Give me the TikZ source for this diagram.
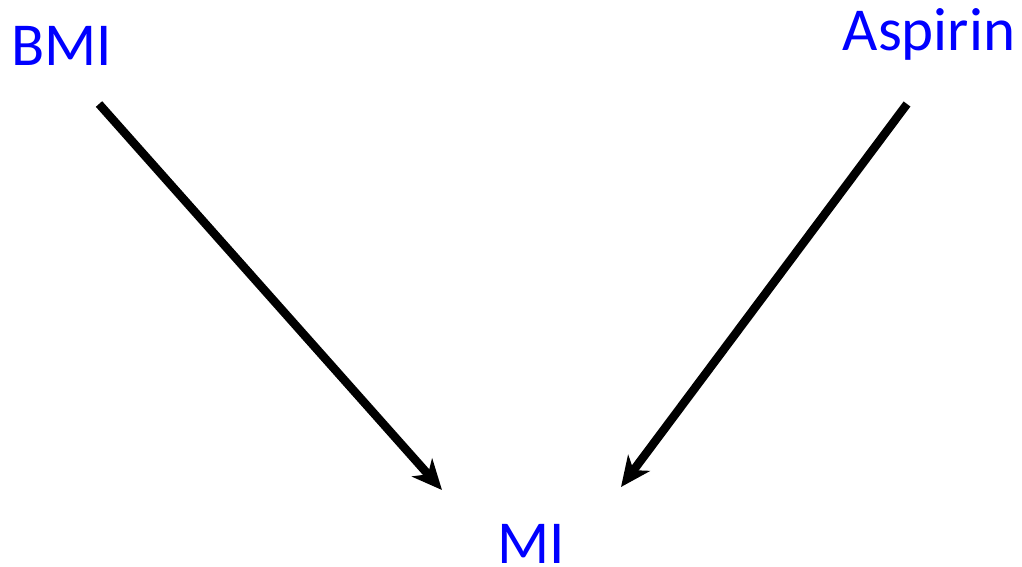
\documentclass[tikz,border=0pt]{standalone}
\usepackage{fontspec}
\setmainfont{Carlito}
\usetikzlibrary{arrows.meta}
\definecolor{lblue}{RGB}{0,0,255}
\tikzset{
  lbl/.style={text=lblue, font=\fontsize{61}{72}\selectfont, inner sep=0pt, anchor=base},
  conn/.style={line width=8.5pt, -{Stealth[length=30pt, width=27pt, inset=9pt]}}
}
\begin{document}
\begin{tikzpicture}[x=1pt,y=-1pt]
\useasboundingbox (0,0) rectangle (1022,567);
\node[lbl] (bmi) at (62,66) {BMI};
\node[lbl] (asp) at (929,51) {Aspirin};
\node[lbl, text depth=0pt] (mi) at (531,563) {MI};
\coordinate (s1) at (99,104);
\coordinate (e1) at (442,490);
\coordinate (s2) at (907,104);
\coordinate (e2) at (621,487);
\draw[conn] (s1) -- (e1);
\draw[conn] (s2) -- (e2);
\end{tikzpicture}
\end{document}
